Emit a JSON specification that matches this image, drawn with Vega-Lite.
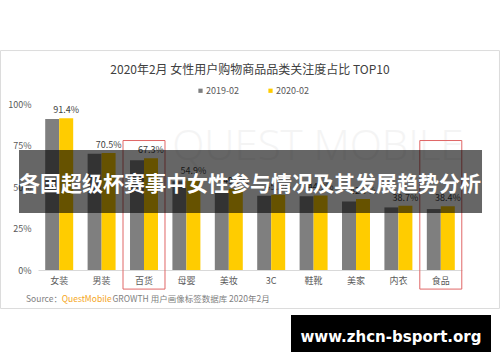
{
  "$schema": "https://vega.github.io/schema/vega-lite/v6.json",
  "width": 424,
  "height": 166,
  "autosize": {"type": "none"},
  "padding": {"left": 38, "top": 104, "right": 38, "bottom": 92},
  "background": "white",
  "config": {"view": {"stroke": null}, "font": "Noto Sans CJK SC"},
  "title": {
    "text": "2020年2月 女性用户购物商品品类关注度占比 TOP10",
    "fontSize": 12,
    "fontWeight": "normal",
    "color": "#404040",
    "anchor": "middle",
    "frame": "group",
    "offset": -27
  },
  "layer": [
    {
      "data": {"values": [{}]},
      "layer": [
        {
          "mark": {"type": "rect", "fillOpacity": 0, "stroke": "#dcdcdc", "strokeWidth": 1},
          "encoding": {
            "x": {"datum": -8.84, "type": "quantitative", "scale": {"domain": [0, 100], "nice": false, "zero": false}, "axis": null},
            "x2": {"datum": 108.84},
            "y": {"datum": 132.2, "type": "quantitative", "scale": {"domain": [0, 100], "nice": false, "zero": false}, "axis": null},
            "y2": {"datum": -23.2}
          }
        },
        {
          "mark": {"type": "text", "text": "QUEST MOBILE", "fontSize": 42, "font": "Open Sans", "fontWeight": 300, "color": "#f4f4f4", "baseline": "middle", "align": "center"},
          "encoding": {
            "x": {"datum": 66.0, "type": "quantitative", "scale": {"domain": [0, 100], "nice": false, "zero": false}, "axis": null},
            "y": {"datum": 74.1, "type": "quantitative", "scale": {"domain": [0, 100], "nice": false, "zero": false}, "axis": null}
          }
        }
      ]
    },
    {
      "data": {
        "values": [
          {"品类": "女装", "时间": "2019-02", "占比": 0.910},
          {"品类": "女装", "时间": "2020-02", "占比": 0.914},
          {"品类": "男装", "时间": "2019-02", "占比": 0.701},
          {"品类": "男装", "时间": "2020-02", "占比": 0.705},
          {"品类": "百货", "时间": "2019-02", "占比": 0.661},
          {"品类": "百货", "时间": "2020-02", "占比": 0.673},
          {"品类": "母婴", "时间": "2019-02", "占比": 0.535},
          {"品类": "母婴", "时间": "2020-02", "占比": 0.549},
          {"品类": "美妆", "时间": "2019-02", "占比": 0.475},
          {"品类": "美妆", "时间": "2020-02", "占比": 0.490},
          {"品类": "3C", "时间": "2019-02", "占比": 0.447},
          {"品类": "3C", "时间": "2020-02", "占比": 0.453},
          {"品类": "鞋靴", "时间": "2019-02", "占比": 0.445},
          {"品类": "鞋靴", "时间": "2020-02", "占比": 0.449},
          {"品类": "美家", "时间": "2019-02", "占比": 0.413},
          {"品类": "美家", "时间": "2020-02", "占比": 0.427},
          {"品类": "内衣", "时间": "2019-02", "占比": 0.377},
          {"品类": "内衣", "时间": "2020-02", "占比": 0.387},
          {"品类": "食品", "时间": "2019-02", "占比": 0.367},
          {"品类": "食品", "时间": "2020-02", "占比": 0.384}
        ]
      },
      "layer": [
        {
          "mark": {"type": "bar"},
          "encoding": {
            "x": {
              "field": "品类", "type": "nominal", "sort": null,
              "scale": {"domain": ["女装", "男装", "百货", "母婴", "美妆", "3C", "鞋靴", "美家", "内衣", "食品"], "paddingInner": 0.34, "paddingOuter": 0.17},
              "axis": {"title": null, "labelAngle": 0, "ticks": false, "domainColor": "#d9d9d9", "labelPadding": 6, "labelFontSize": 9, "labelColor": "#595959"}
            },
            "xOffset": {"field": "时间", "type": "nominal", "scale": {"domain": ["2019-02", "2020-02"]}},
            "y": {
              "field": "占比", "type": "quantitative",
              "scale": {"domain": [0, 1], "nice": false},
              "axis": {"title": null, "values": [0, 0.25, 0.5, 0.75, 1], "format": ".0%", "grid": false, "domain": false, "ticks": false, "labelPadding": 7, "labelFontSize": 9, "labelColor": "#595959"}
            },
            "color": {
              "field": "时间", "type": "nominal",
              "scale": {"domain": ["2019-02", "2020-02"], "range": ["#7f7f7f", "#ffcc00"]},
              "legend": {"orient": "none", "legendX": 158, "legendY": -18, "direction": "horizontal", "title": null, "symbolType": "square", "symbolSize": 18, "symbolStrokeWidth": 0, "labelFontSize": 9, "labelColor": "#595959", "columnPadding": 26, "labelOffset": 1, "padding": 0}
            }
          }
        },
        {
          "transform": [{"filter": "datum['时间'] === '2020-02'"}],
          "mark": {"type": "text", "baseline": "bottom", "dy": -3, "fontSize": 9, "color": "#404040"},
          "encoding": {
            "x": {"field": "品类", "type": "nominal", "sort": null},
            "xOffset": {"field": "时间", "type": "nominal", "scale": {"domain": ["2019-02", "2020-02"]}},
            "y": {"field": "占比", "type": "quantitative", "scale": {"domain": [0, 1], "nice": false}},
            "text": {"field": "占比", "type": "quantitative", "format": ".1%"}
          }
        },
        {
          "data": {"values": [{"品类": "百货"}, {"品类": "食品"}]},
          "mark": {"type": "bar", "fillOpacity": 0, "stroke": "#e06666", "strokeWidth": 1, "width": {"band": 1.5}},
          "encoding": {
            "x": {"field": "品类", "type": "nominal", "sort": null},
            "y": {"datum": 0.78, "type": "quantitative", "scale": {"domain": [0, 1], "nice": false}},
            "y2": {"datum": -0.115}
          }
        }
      ]
    },
    {
      "data": {"values": [{}]},
      "encoding": {},
      "layer": [
        {
          "mark": {"type": "rect", "fill": "black", "opacity": 0.6},
          "encoding": {
            "x": {"datum": -4.48, "type": "quantitative", "scale": {"domain": [0, 100], "nice": false, "zero": false}, "axis": null},
            "x2": {"datum": 104.72},
            "y": {"datum": 72.29, "type": "quantitative", "scale": {"domain": [0, 100], "nice": false, "zero": false}, "axis": null},
            "y2": {"datum": 34.34}
          }
        },
        {
          "mark": {"type": "text", "text": "各国超级杯赛事中女性参与情况及其发展趋势分析", "fontSize": 21, "fontWeight": "bold", "color": "white", "align": "center", "baseline": "middle"},
          "encoding": {
            "x": {"datum": 50.0, "type": "quantitative", "scale": {"domain": [0, 100], "nice": false, "zero": false}, "axis": null},
            "y": {"datum": 51.2, "type": "quantitative", "scale": {"domain": [0, 100], "nice": false, "zero": false}, "axis": null}
          }
        },
        {
          "mark": {"type": "text", "text": "Source：", "fontSize": 8.5, "color": "#7f7f7f", "align": "left", "baseline": "middle"},
          "encoding": {
            "x": {"datum": -2.83, "type": "quantitative", "scale": {"domain": [0, 100], "nice": false, "zero": false}, "axis": null},
            "y": {"datum": -17.5, "type": "quantitative", "scale": {"domain": [0, 100], "nice": false, "zero": false}, "axis": null}
          }
        },
        {
          "mark": {"type": "text", "text": "QuestMobile", "fontSize": 8.5, "color": "#f5a623", "align": "left", "baseline": "middle"},
          "encoding": {
            "x": {"datum": 5.59, "type": "quantitative", "scale": {"domain": [0, 100], "nice": false, "zero": false}, "axis": null},
            "y": {"datum": -17.5, "type": "quantitative", "scale": {"domain": [0, 100], "nice": false, "zero": false}, "axis": null}
          }
        },
        {
          "mark": {"type": "text", "text": "GROWTH 用户画像标签数据库 2020年2月", "fontSize": 8.5, "color": "#7f7f7f", "align": "left", "baseline": "middle"},
          "encoding": {
            "x": {"datum": 17.57, "type": "quantitative", "scale": {"domain": [0, 100], "nice": false, "zero": false}, "axis": null},
            "y": {"datum": -17.5, "type": "quantitative", "scale": {"domain": [0, 100], "nice": false, "zero": false}, "axis": null}
          }
        },
        {
          "mark": {"type": "rect", "fill": "black"},
          "encoding": {
            "x": {"datum": 59.67, "type": "quantitative", "scale": {"domain": [0, 100], "nice": false, "zero": false}, "axis": null},
            "x2": {"datum": 106.84},
            "y": {"datum": -27.1, "type": "quantitative", "scale": {"domain": [0, 100], "nice": false, "zero": false}, "axis": null},
            "y2": {"datum": -49.4}
          }
        },
        {
          "mark": {"type": "text", "text": "www.zhcn-bsport.org", "font": "DejaVu Sans", "fontSize": 15, "fontWeight": "bold", "color": "white", "align": "center", "baseline": "middle"},
          "encoding": {
            "x": {"datum": 83.25, "type": "quantitative", "scale": {"domain": [0, 100], "nice": false, "zero": false}, "axis": null},
            "y": {"datum": -40.66, "type": "quantitative", "scale": {"domain": [0, 100], "nice": false, "zero": false}, "axis": null}
          }
        }
      ]
    }
  ],
  "resolve": {"scale": {"x": "independent", "y": "independent"}}
}
